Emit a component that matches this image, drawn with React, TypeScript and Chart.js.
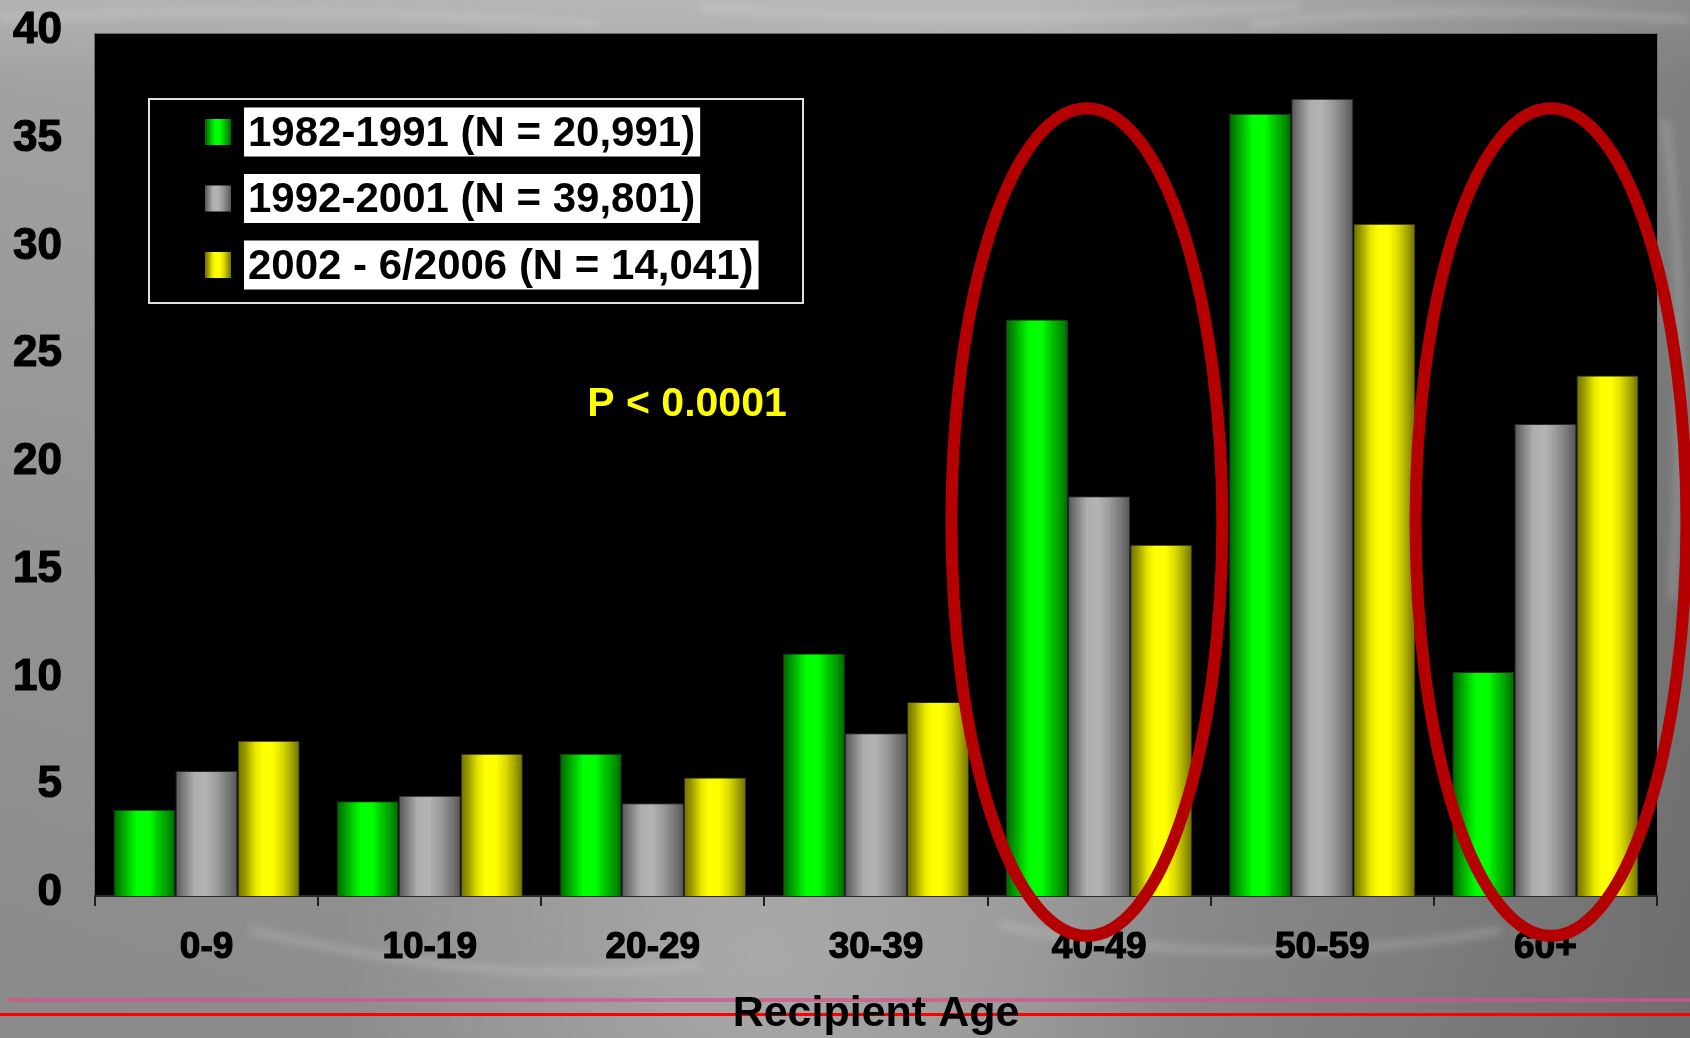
import React, { useEffect, useRef } from 'react';
import { Chart, registerables } from 'chart.js';

Chart.register(...registerables);

// Recipient age groups and the share (%) of recipients in each era
const categories = ['0-9', '10-19', '20-29', '30-39', '40-49', '50-59', '60+'];
const era1982 = [4.0, 4.4, 6.6, 11.25, 26.75, 36.3, 10.4];
const era1992 = [5.8, 4.65, 4.3, 7.55, 18.55, 37.0, 21.9];
const era2002 = [7.2, 6.6, 5.5, 9.0, 16.3, 31.2, 24.15];
const eraLabels = ['1982-1991 (N = 20,991)', '1992-2001 (N = 39,801)', '2002 - 6/2006 (N = 14,041)'];

const yMin = 0;
const yMax = 40;
const yStep = 5;

const axisTitle = 'Recipient Age';
const pValueText = 'P < 0.0001';
const highlightedGroups = ['40-49', '60+'];

const FONT = '"Liberation Sans", Arial, Helvetica, sans-serif';

// Cylinder-like shading across each bar, one set of stops per era
const barShading: [number, string][][] = [
  [[0, '#006400'], [0.1, '#008c00'], [0.28, '#00d800'], [0.38, '#00ff00'], [0.58, '#00ff00'], [0.72, '#00c800'], [0.88, '#009600'], [1, '#006400']],
  [[0, '#555555'], [0.12, '#7a7a7a'], [0.3, '#adadad'], [0.48, '#b4b4b4'], [0.66, '#9c9c9c'], [0.86, '#767676'], [1, '#555555']],
  [[0, '#6e6e00'], [0.12, '#9a9a00'], [0.28, '#e6e600'], [0.4, '#ffff00'], [0.56, '#ffff00'], [0.72, '#dcdc00'], [0.88, '#a0a000'], [1, '#6e6e00']],
];
const flatColors = ['#00e000', '#a8a8a8', '#f0f000'];

function shade(ctx: CanvasRenderingContext2D, x0: number, x1: number, stops: [number, string][]) {
  const g = ctx.createLinearGradient(x0, 0, x1, 0);
  stops.forEach(([o, c]) => g.addColorStop(o, c));
  return g;
}

const slideBackground = {
  id: 'slideBackground',
  beforeDraw(chart: any) {
    const { ctx, width, height, chartArea } = chart;
    ctx.save();
    const base = ctx.createLinearGradient(0, 0, 0, height);
    base.addColorStop(0, '#bababa');
    base.addColorStop(0.08, '#a8a8a8');
    base.addColorStop(0.5, '#9a9a9a');
    base.addColorStop(1, '#909090');
    ctx.fillStyle = base;
    ctx.fillRect(0, 0, width, height);

    const side = ctx.createLinearGradient(0, 0, width, 0);
    side.addColorStop(0, 'rgba(30,30,30,0.05)');
    side.addColorStop(0.6, 'rgba(30,30,30,0)');
    side.addColorStop(1, 'rgba(30,30,30,0.3)');
    ctx.fillStyle = side;
    ctx.fillRect(0, 0, width, height);

    const glow = ctx.createRadialGradient(760, 960, 10, 760, 960, 420);
    glow.addColorStop(0, 'rgba(215,215,215,0.35)');
    glow.addColorStop(1, 'rgba(215,215,215,0)');
    ctx.fillStyle = glow;
    ctx.fillRect(0, 0, width, height);

    // soft fibrous streaks of the slide backdrop
    ctx.filter = 'blur(4px)';
    ctx.strokeStyle = 'rgba(235,235,235,0.28)';
    ctx.lineWidth = 6;
    const streaks = [
      [0, 18, 300, 4, 600, 24],
      [700, 8, 1000, 28, 1300, 6],
      [1250, 24, 1450, 2, 1690, 20],
      [1665, 120, 1690, 300, 1672, 600],
      [250, 930, 500, 990, 700, 965],
      [1000, 925, 1250, 975, 1500, 930],
    ];
    streaks.forEach(([a, b, c, d, e, f]) => {
      ctx.beginPath();
      ctx.moveTo(a, b);
      ctx.quadraticCurveTo(c, d, e, f);
      ctx.stroke();
    });
    ctx.filter = 'none';

    // slide rule lines
    ctx.fillStyle = 'rgba(214,84,134,0.75)';
    ctx.fillRect(6, 998, width, 4);
    ctx.fillStyle = '#ff0000';
    ctx.fillRect(0, 1013, width, 3);

    // black plot panel
    ctx.fillStyle = '#000000';
    ctx.fillRect(chartArea.left, chartArea.top, chartArea.right - chartArea.left, chartArea.bottom - chartArea.top);
    ctx.strokeStyle = '#6e6e6e';
    ctx.lineWidth = 1;
    ctx.strokeRect(chartArea.left - 0.5, chartArea.top - 0.5, chartArea.right - chartArea.left + 1, chartArea.bottom - chartArea.top + 1);
    ctx.restore();
  },
};

const barGradients = {
  id: 'barGradients',
  beforeDatasetsDraw(chart: any) {
    const { ctx } = chart;
    chart.data.datasets.forEach((_ds: any, i: number) => {
      const meta = chart.getDatasetMeta(i);
      meta.data.forEach((el: any) => {
        const { x, width } = el.getProps(['x', 'width'], true);
        el.options.backgroundColor = shade(ctx, x - width / 2, x + width / 2, barShading[i]);
      });
    });
  },
};

const annotations = {
  id: 'annotations',
  afterDatasetsDraw(chart: any) {
    const { ctx, scales } = chart;
    const xs = scales.x;
    const ys = scales.y;
    const catW = xs.width / categories.length;
    ctx.save();

    // rings around the age groups that shifted most
    const ringShift = [-0.055, 0.025];
    highlightedGroups.forEach((g, k) => {
      const idx = categories.indexOf(g);
      const cx = xs.getPixelForValue(idx) + ringShift[k] * catW;
      const cy = ys.getPixelForValue(17.35);
      const ry = ys.getPixelForValue(0) - ys.getPixelForValue(19.2);
      const rx = 0.607 * catW;
      ctx.beginPath();
      ctx.ellipse(cx, cy, rx, ry, 0, 0, Math.PI * 2);
      ctx.strokeStyle = '#b40000';
      ctx.lineWidth = 12;
      ctx.stroke();
    });

    // significance note
    ctx.fillStyle = '#ffff00';
    ctx.font = `bold 41px ${FONT}`;
    ctx.textAlign = 'center';
    ctx.textBaseline = 'middle';
    ctx.fillText(pValueText, xs.left + 0.379 * xs.width, ys.getPixelForValue(22.8));
    ctx.restore();
  },
};

const boxedLegend = {
  id: 'boxedLegend',
  afterDraw(chart: any) {
    const { ctx, chartArea } = chart;
    const left = chartArea.left + 54;
    const top = chartArea.top + 65;
    const boxW = 654;
    const boxH = 204;
    ctx.save();
    ctx.fillStyle = '#000';
    ctx.fillRect(left, top, boxW, boxH);
    ctx.strokeStyle = '#e0e0e0';
    ctx.lineWidth = 2;
    ctx.strokeRect(left, top, boxW, boxH);

    ctx.font = `bold 42px ${FONT}`;
    ctx.textBaseline = 'middle';
    ctx.textAlign = 'left';
    chart.data.datasets.forEach((ds: any, i: number) => {
      const cy = top + 33 + i * 66.5;
      const sx = left + 56;
      ctx.fillStyle = shade(ctx, sx, sx + 26, barShading[i]);
      ctx.fillRect(sx, cy - 13, 26, 26);
      const tx = left + 95;
      const tw = ctx.measureText(ds.label).width;
      ctx.fillStyle = '#ffffff';
      ctx.fillRect(tx, cy - 24.5, tw + 9, 49);
      ctx.fillStyle = '#000000';
      ctx.fillText(ds.label, tx + 4, cy + 2);
    });
    ctx.restore();
  },
};

export default function App() {
  const canvasRef = useRef<HTMLCanvasElement | null>(null);

  useEffect(() => {
    const canvas = canvasRef.current;
    if (!canvas) return;
    const eras = [era1982, era1992, era2002];
    const chart = new Chart(canvas, {
      type: 'bar',
      data: {
        labels: categories,
        datasets: eras.map((values, i) => ({
          label: eraLabels[i],
          data: values,
          backgroundColor: () => flatColors[i],
          borderColor: '#2a2a2a',
          borderWidth: 1,
          categoryPercentage: 0.835,
          barPercentage: 1,
        })),
      },
      options: {
        responsive: false,
        animation: false,
        devicePixelRatio: 1,
        layout: { padding: { left: 0, top: 34, right: 33, bottom: 0 } },
        plugins: {
          legend: { display: false },
          tooltip: { enabled: false },
        },
        scales: {
          x: {
            grid: {
              display: true,
              drawOnChartArea: false,
              drawTicks: true,
              tickLength: 10,
              color: '#1e1e1e',
              lineWidth: 2,
              offset: true,
            },
            border: { display: true, color: '#2a2a2a', width: 2 },
            ticks: {
              color: '#000',
              font: { family: FONT, size: 37, weight: 'bold' },
              padding: 20,
              maxRotation: 0,
              textStrokeColor: '#000',
              textStrokeWidth: 1.2,
            },
            title: {
              display: true,
              text: axisTitle,
              color: '#000',
              font: { family: FONT, size: 43, weight: 'bold', lineHeight: 1.1 },
              padding: { top: 0, bottom: 0 },
            },
            afterFit(scale: any) {
              scale.height = 142;
              scale.paddingLeft = 0;
              scale.paddingRight = 0;
            },
          },
          y: {
            min: yMin,
            max: yMax,
            grid: { display: false, drawTicks: false },
            border: { display: false },
            ticks: {
              stepSize: yStep,
              color: '#000',
              font: { family: FONT, size: 44, weight: 'bold' },
              padding: 33,
              labelOffset: -3,
              textStrokeColor: '#000',
              textStrokeWidth: 1.2,
            },
            afterFit(scale: any) {
              scale.width = 95;
              scale.paddingTop = 0;
              scale.paddingBottom = 0;
            },
          },
        },
      },
      plugins: [slideBackground, barGradients, annotations, boxedLegend],
    });
    return () => chart.destroy();
  }, []);

  return (
    <div style={{ position: 'absolute', left: 0, top: 0, width: 1690, height: 1038, overflow: 'hidden' }}>
      <canvas ref={canvasRef} width={1690} height={1038} style={{ display: 'block', width: 1690, height: 1038 }} />
    </div>
  );
}
